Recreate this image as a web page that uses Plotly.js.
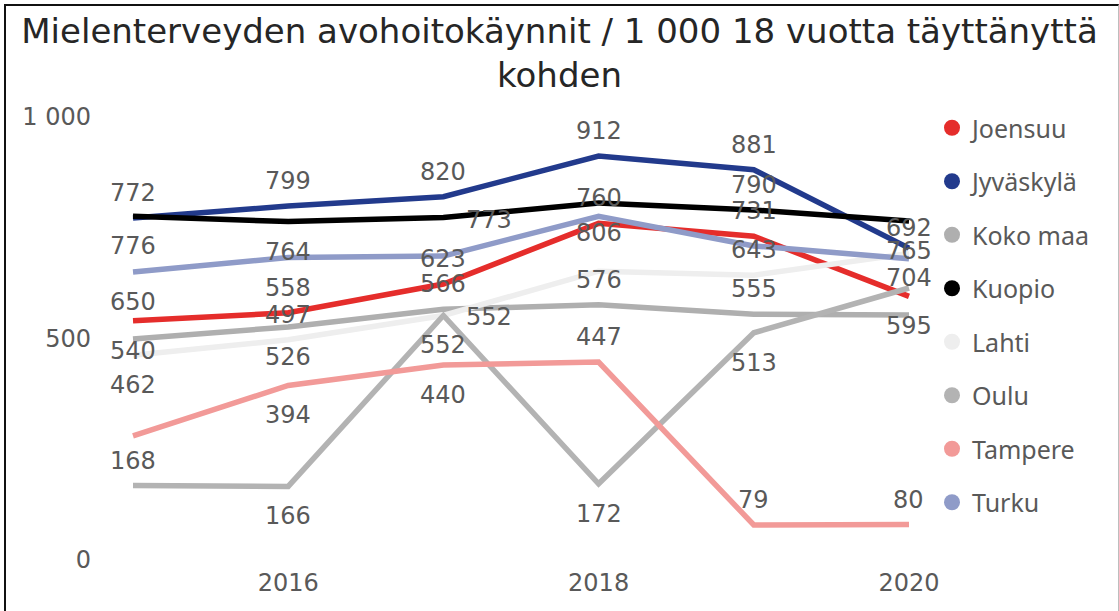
<!DOCTYPE html>
<html>
<head>
<meta charset="utf-8">
<script src="https://cdn.plot.ly/plotly-3.0.1.min.js"></script>
<style>
  html, body { margin: 0; padding: 0; background: #fff; }
  #wrap { position: relative; width: 1119px; height: 611px; overflow: hidden; }
  #chart { width: 1119px; height: 611px; }
  #frame { position: absolute; left: 4px; top: 4px; width: 1112px; height: 640px;
           border-left: 2px solid #111; border-top: 2px solid #111; border-right: 1px solid #bdbdbd;
           pointer-events: none; }
</style>
</head>
<body>
<div id="wrap"><div id="chart"></div><div id="frame"></div></div>
<script>
// ---- data ----
const years = [2015, 2016, 2017, 2018, 2019, 2020];
const seriesNames = ["Joensuu", "Jyväskylä", "Koko maa", "Kuopio", "Lahti", "Oulu", "Tampere", "Turku"];
const joensuu   = [540, 558, 623, 760, 731, 595];
const jyvaskyla = [772, 799, 820, 912, 881, 704];
const kokoMaa   = [499, 526, 566, 576, 555, 553];
const kuopio    = [776, 764, 773, 806, 790, 765];
const lahti     = [462, 497, 552, 652, 643, 692];
const oulu      = [168, 166, 552, 172, 513, 614];
const tampere   = [280, 394, 440, 447, 79, 80];
const turku     = [650, 683, 686, 776, 709, 680];
const xTickVals = [2016, 2018, 2020];
const xTickText = ["2016", "2018", "2020"];
const yTickVals = [0, 500, 1000];
const yTickText = ["0", "500", "1 000"];

// ---- styling / label placement (a = above, b = below, r = right, "" = none) ----
const colors = ["#e52d2b", "#223a8c", "#afafaf", "#000000", "#eeeeee", "#b3b3b3", "#f29a98", "#8f9bc8"];
const labelPlacement = [
  ["b","a","a","a","a","b"],
  ["a","a","a","a","a","b"],
  ["","b","a","a","a",""],
  ["b","b","r","b","a","b"],
  ["b","a","r","","a","a"],
  ["a","b","b","b","b",""],
  ["","b","b","a","a","a"],
  ["b","","","","",""]
];
const allValues = [joensuu, jyvaskyla, kokoMaa, kuopio, lahti, oulu, tampere, turku];

const traces = [];
allValues.forEach((vals, i) => {
  traces.push({
    x: years, y: vals, type: "scatter", mode: "lines",
    line: { color: colors[i], width: 5.5 },
    showlegend: false, hoverinfo: "x+y", cliponaxis: false
  });
});
// legend entries (circle symbols)
allValues.forEach((vals, i) => {
  traces.push({
    x: [null], y: [null], type: "scatter", mode: "markers",
    name: seriesNames[i], legendgroup: "g" + i,
    marker: { color: colors[i], size: 20, symbol: "circle" },
    showlegend: true
  });
});

const annotations = [];
allValues.forEach((vals, i) => {
  vals.forEach((v, j) => {
    const p = labelPlacement[i][j];
    if (!p) return;
    let xs = 0, ys = 0;
    if (p === "a") ys = 25;
    else if (p === "b") ys = -30;
    else if (p === "r") { xs = 46; ys = -2; }
    annotations.push({
      x: years[j], y: v, xref: "x", yref: "y", text: String(v), showarrow: false,
      xshift: xs, yshift: ys,
      font: { family: "DejaVu Sans, Verdana, sans-serif", size: 24, color: "#595959" }
    });
  });
});

const layout = {
  width: 1119, height: 611,
  paper_bgcolor: "#ffffff", plot_bgcolor: "#ffffff",
  margin: { l: 100, r: 190, t: 117, b: 51, pad: 0 },
  title: {
    text: "Mielenterveyden avohoitokäynnit / 1 000 18 vuotta täyttänyttä<br>kohden",
    font: { family: "DejaVu Sans, Verdana, sans-serif", size: 34, color: "#262626" },
    x: 0.5, xanchor: "center", xref: "container",
    y: 1 - 43 / 611, yanchor: "middle", yref: "container"
  },
  xaxis: {
    range: [2014.7874, 2020.1289], showgrid: false, zeroline: false, showline: false,
    ticks: "", tickmode: "array", tickvals: xTickVals, ticktext: xTickText,
    tickfont: { family: "DejaVu Sans, Verdana, sans-serif", size: 24, color: "#595959" },
    ticklabelstandoff: 6, fixedrange: true
  },
  yaxis: {
    range: [0, 1000], showgrid: false, zeroline: false, showline: false,
    ticks: "", tickmode: "array", tickvals: yTickVals, ticktext: yTickText,
    tickfont: { family: "DejaVu Sans, Verdana, sans-serif", size: 24, color: "#595959" },
    ticklabelstandoff: 8, fixedrange: true
  },
  legend: {
    xref: "container", yref: "container",
    x: 932 / 1119, xanchor: "left", y: 1 - 105 / 611, yanchor: "top",
    font: { family: "Noto Sans, Open Sans, sans-serif", size: 25, color: "#595959" },
    tracegroupgap: 18, itemsizing: "trace", bgcolor: "rgba(0,0,0,0)",
    maxheight: 600
  },
  annotations: annotations,
  showlegend: true
};

Plotly.newPlot("chart", traces, layout, { displayModeBar: false, staticPlot: true });
</script>
</body>
</html>
